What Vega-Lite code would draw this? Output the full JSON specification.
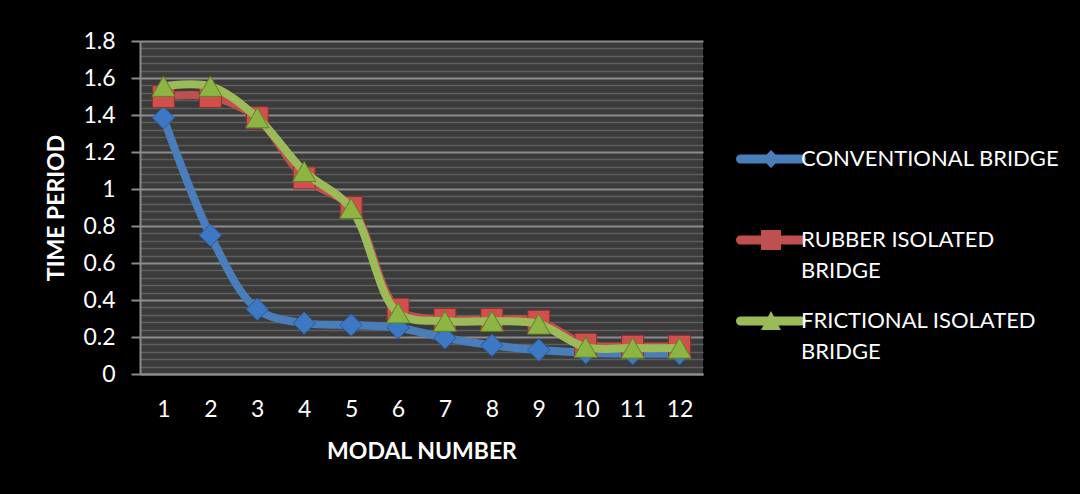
{
  "$schema": "https://vega.github.io/schema/vega-lite/v6.json",
  "width": 563,
  "height": 333,
  "autosize": {"type": "none"},
  "padding": {"left": 140, "top": 41, "right": 377, "bottom": 120},
  "background": "#000000",
  "config": {
    "view": {"fill": "#3b3b3b", "stroke": null},
    "font": "Lato"
  },
  "datasets": {
    "modes": [
      {"mode": 1, "series": "CONVENTIONAL BRIDGE", "value": 1.385},
      {"mode": 2, "series": "CONVENTIONAL BRIDGE", "value": 0.75},
      {"mode": 3, "series": "CONVENTIONAL BRIDGE", "value": 0.35},
      {"mode": 4, "series": "CONVENTIONAL BRIDGE", "value": 0.275},
      {"mode": 5, "series": "CONVENTIONAL BRIDGE", "value": 0.265},
      {"mode": 6, "series": "CONVENTIONAL BRIDGE", "value": 0.25},
      {"mode": 7, "series": "CONVENTIONAL BRIDGE", "value": 0.195},
      {"mode": 8, "series": "CONVENTIONAL BRIDGE", "value": 0.155},
      {"mode": 9, "series": "CONVENTIONAL BRIDGE", "value": 0.13},
      {"mode": 10, "series": "CONVENTIONAL BRIDGE", "value": 0.115},
      {"mode": 11, "series": "CONVENTIONAL BRIDGE", "value": 0.11},
      {"mode": 12, "series": "CONVENTIONAL BRIDGE", "value": 0.11},
      {"mode": 1, "series": "RUBBER ISOLATED BRIDGE", "value": 1.5},
      {"mode": 2, "series": "RUBBER ISOLATED BRIDGE", "value": 1.5},
      {"mode": 3, "series": "RUBBER ISOLATED BRIDGE", "value": 1.385},
      {"mode": 4, "series": "RUBBER ISOLATED BRIDGE", "value": 1.06},
      {"mode": 5, "series": "RUBBER ISOLATED BRIDGE", "value": 0.9},
      {"mode": 6, "series": "RUBBER ISOLATED BRIDGE", "value": 0.35},
      {"mode": 7, "series": "RUBBER ISOLATED BRIDGE", "value": 0.295},
      {"mode": 8, "series": "RUBBER ISOLATED BRIDGE", "value": 0.295},
      {"mode": 9, "series": "RUBBER ISOLATED BRIDGE", "value": 0.285},
      {"mode": 10, "series": "RUBBER ISOLATED BRIDGE", "value": 0.16},
      {"mode": 11, "series": "RUBBER ISOLATED BRIDGE", "value": 0.15},
      {"mode": 12, "series": "RUBBER ISOLATED BRIDGE", "value": 0.15},
      {"mode": 1, "series": "FRICTIONAL ISOLATED BRIDGE", "value": 1.555},
      {"mode": 2, "series": "FRICTIONAL ISOLATED BRIDGE", "value": 1.555},
      {"mode": 3, "series": "FRICTIONAL ISOLATED BRIDGE", "value": 1.385},
      {"mode": 4, "series": "FRICTIONAL ISOLATED BRIDGE", "value": 1.095},
      {"mode": 5, "series": "FRICTIONAL ISOLATED BRIDGE", "value": 0.895},
      {"mode": 6, "series": "FRICTIONAL ISOLATED BRIDGE", "value": 0.33},
      {"mode": 7, "series": "FRICTIONAL ISOLATED BRIDGE", "value": 0.285},
      {"mode": 8, "series": "FRICTIONAL ISOLATED BRIDGE", "value": 0.285},
      {"mode": 9, "series": "FRICTIONAL ISOLATED BRIDGE", "value": 0.27},
      {"mode": 10, "series": "FRICTIONAL ISOLATED BRIDGE", "value": 0.145},
      {"mode": 11, "series": "FRICTIONAL ISOLATED BRIDGE", "value": 0.14},
      {"mode": 12, "series": "FRICTIONAL ISOLATED BRIDGE", "value": 0.14}
    ]
  },
  "data": {"name": "modes"},
  "resolve": {"axis": {"y": "independent"}},
  "encoding": {
    "x": {"field": "mode", "type": "ordinal", "scale": {"type": "point", "padding": 0.5},
      "axis": {"title": "MODAL NUMBER", "labelAngle": 0, "labelColor": "#ffffff", "labelFont": "Lato", "labelFontSize": 23,
        "labelPadding": 24, "ticks": false, "domainColor": "#8c8c8c", "domainWidth": 2,
        "titleColor": "#ffffff", "titleFont": "Lato", "titleFontSize": 23, "titleFontWeight": "bold", "titlePadding": 19, "grid": false}}
  },
  "layer": [
    {
      "transform": [{"filter": "datum.series == 'CONVENTIONAL BRIDGE'"}],
      "mark": {"type": "line", "interpolate": "catmull-rom", "strokeWidth": 8, "strokeCap": "round", "strokeJoin": "round", "color": "#4a7ebb"},
      "encoding": {
        "y": {"field": "value", "type": "quantitative", "scale": {"domain": [0, 1.8], "nice": false, "zero": true},
          "axis": {"orient": "left", "title": "TIME PERIOD", "values": [0, 0.2, 0.4, 0.6, 0.8, 1, 1.2, 1.4, 1.6, 1.8],
            "labelExpr": "datum.value == 0 ? '0' : datum.value == 1 ? '1' : format(datum.value, '.1f')",
            "labelColor": "#ffffff", "labelFont": "Lato", "labelFontSize": 23, "labelPadding": 16,
            "tickColor": "#8c8c8c", "tickSize": 9, "tickWidth": 2, "domainColor": "#8c8c8c", "domainWidth": 2,
            "grid": true, "gridColor": "#8c8c8c", "gridWidth": 2,
            "titleColor": "#ffffff", "titleFont": "Lato", "titleFontSize": 23, "titleFontWeight": "bold", "titlePadding": 14}}
      }
    },
    {
      "transform": [{"filter": "datum.series == 'CONVENTIONAL BRIDGE'"}],
      "mark": {"type": "point", "shape": "diamond", "filled": true, "size": 500, "opacity": 1, "fill": "#3d78c4", "stroke": "#2a5a96", "strokeWidth": 1},
      "encoding": {
        "y": {"field": "value", "type": "quantitative", "axis": {"orient": "left", "grid": true, "gridColor": "#5e5e5e", "gridWidth": 1.5,
          "values": [0.04, 0.08, 0.12, 0.16, 0.24, 0.28, 0.32, 0.36, 0.44, 0.48, 0.52, 0.56, 0.64, 0.68, 0.72, 0.76, 0.84, 0.88, 0.92, 0.96, 1.04, 1.08, 1.12, 1.16, 1.24, 1.28, 1.32, 1.36, 1.44, 1.48, 1.52, 1.56, 1.64, 1.68, 1.72, 1.76],
          "labels": false, "ticks": false, "domain": false, "title": null}}
      }
    },
    {
      "transform": [{"filter": "datum.series == 'RUBBER ISOLATED BRIDGE'"}],
      "mark": {"type": "line", "interpolate": "catmull-rom", "strokeWidth": 8, "strokeCap": "round", "strokeJoin": "round", "color": "#c0504d"},
      "encoding": {
        "y": {"field": "value", "type": "quantitative", "axis": null}
      }
    },
    {
      "transform": [{"filter": "datum.series == 'RUBBER ISOLATED BRIDGE'"}],
      "mark": {"type": "point", "shape": "square", "filled": true, "size": 480, "opacity": 1, "fill": "#d0504c", "stroke": "#8e3230", "strokeWidth": 1},
      "encoding": {
        "y": {"field": "value", "type": "quantitative", "axis": null}
      }
    },
    {
      "transform": [{"filter": "datum.series == 'FRICTIONAL ISOLATED BRIDGE'"}],
      "mark": {"type": "line", "interpolate": "catmull-rom", "strokeWidth": 8, "strokeCap": "round", "strokeJoin": "round", "color": "#9bbb59"},
      "encoding": {
        "y": {"field": "value", "type": "quantitative", "axis": null}
      }
    },
    {
      "transform": [{"filter": "datum.series == 'FRICTIONAL ISOLATED BRIDGE'"}],
      "mark": {"type": "point", "shape": "triangle-up", "filled": true, "size": 540, "opacity": 1, "fill": "#8db543", "stroke": "#5f7f2a", "strokeWidth": 1},
      "encoding": {
        "y": {"field": "value", "type": "quantitative", "axis": null}
      }
    },
    {
      "mark": {"type": "point", "filled": true, "opacity": 0},
      "encoding": {
        "y": {"field": "value", "type": "quantitative", "axis": null},
        "color": {"field": "series", "type": "nominal",
          "scale": {"domain": ["CONVENTIONAL BRIDGE", "RUBBER ISOLATED BRIDGE", "FRICTIONAL ISOLATED BRIDGE"], "range": ["#4a7ebb", "#c0504d", "#9bbb59"]},
          "legend": {"orient": "none", "legendX": 620, "legendY": 107, "title": null, "direction": "vertical", "symbolSize": 400, "symbolOpacity": 1, "symbolStrokeWidth": 0,
            "labelColor": "#ffffff", "labelFont": "Lato", "labelFontSize": 22, "labelOffset": 19, "labelLimit": 400, "rowPadding": 28, "padding": 0,
            "labelExpr": "datum.label == 'CONVENTIONAL BRIDGE' ? ['CONVENTIONAL BRIDGE', ''] : datum.label == 'RUBBER ISOLATED BRIDGE' ? ['\u00a0RUBBER ISOLATED', 'BRIDGE'] : ['FRICTIONAL ISOLATED', 'BRIDGE']",
            "encode": {"labels": {"update": {"lineHeight": {"value": 31}}}}}},
        "shape": {"field": "series", "type": "nominal",
          "scale": {"domain": ["CONVENTIONAL BRIDGE", "RUBBER ISOLATED BRIDGE", "FRICTIONAL ISOLATED BRIDGE"],
            "range": [
              "M-3.05,-0.45 H3.05 A0.45,0.45 0 0 1 3.05,0.45 H-3.05 A0.45,0.45 0 0 1 -3.05,-0.45 Z M0,-0.9 L0.9,0 L0,0.9 L-0.9,0 Z",
              "M-3.05,-0.45 H3.05 A0.45,0.45 0 0 1 3.05,0.45 H-3.05 A0.45,0.45 0 0 1 -3.05,-0.45 Z M-1,-1 H1 V1 H-1 Z",
              "M-3.05,-0.45 H3.05 A0.45,0.45 0 0 1 3.05,0.45 H-3.05 A0.45,0.45 0 0 1 -3.05,-0.45 Z M0,-1 L1,0.9 L-1,0.9 Z"
            ]},
          "legend": {"orient": "none", "legendX": 620, "legendY": 107, "title": null, "direction": "vertical", "symbolSize": 400, "symbolOpacity": 1, "symbolStrokeWidth": 0,
            "labelColor": "#ffffff", "labelFont": "Lato", "labelFontSize": 22, "labelOffset": 19, "labelLimit": 400, "rowPadding": 28, "padding": 0,
            "labelExpr": "datum.label == 'CONVENTIONAL BRIDGE' ? ['CONVENTIONAL BRIDGE', ''] : datum.label == 'RUBBER ISOLATED BRIDGE' ? ['\u00a0RUBBER ISOLATED', 'BRIDGE'] : ['FRICTIONAL ISOLATED', 'BRIDGE']",
            "encode": {"labels": {"update": {"lineHeight": {"value": 31}}}}}}
      }
    }
  ]
}
